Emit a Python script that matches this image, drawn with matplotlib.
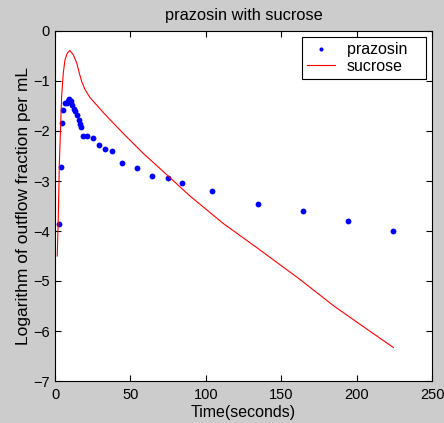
import matplotlib
matplotlib.use("Agg")
import matplotlib.pyplot as plt

plt.rcParams['font.family'] = ['Liberation Sans', 'DejaVu Sans']

# prazosin data (time in s, log outflow fraction per mL)
praz_t = [2.9, 3.8, 4.6, 5.5, 6.4, 7.7, 8.6, 9.5, 10.4, 11.3, 12.6, 13.5, 14.4,
          15.7, 16.6, 17.5, 18.8, 21.4, 25.0, 29.4, 33.4, 37.8, 44.2, 54.6,
          64.5, 74.7, 84.0, 104.1, 134.4, 164.6, 194.1, 224.4]
praz_y = [-3.87, -2.73, -1.85, -1.59, -1.45, -1.44, -1.40, -1.36, -1.40, -1.48,
          -1.57, -1.61, -1.68, -1.78, -1.87, -1.92, -2.11, -2.11, -2.15, -2.28,
          -2.37, -2.41, -2.64, -2.75, -2.90, -2.94, -3.04, -3.21, -3.47, -3.60,
          -3.81, -4.00]

# sucrose curve
suc_t = [1.5, 2.2, 2.9, 3.8, 4.4, 5.5, 6.6, 8.2, 9.9, 12.2, 14.4, 16.1, 17.7,
         19.9, 23.2, 32.0, 45.3, 58.6, 71.8, 89.5, 111.6, 133.7, 162.5, 184.5,
         206.7, 224.4]
suc_y = [-4.5, -3.7, -2.63, -1.84, -1.31, -0.84, -0.58, -0.44, -0.39, -0.48,
         -0.64, -0.84, -1.01, -1.17, -1.33, -1.63, -2.05, -2.45, -2.81, -3.30,
         -3.85, -4.33, -4.97, -5.49, -5.96, -6.33]

title = "prazosin with sucrose"
xlabel = "Time(seconds)"
ylabel = "Logarithm of outflow fraction per mL"
xticks = [0, 50, 100, 150, 200, 250]
yticks = [0, -1, -2, -3, -4, -5, -6, -7]

fig = plt.figure(figsize=(4.44, 4.23), dpi=100, facecolor='#cccccc')
ax = fig.add_axes([55/444, 42/423, 377/444, 350/423])
ax.set_facecolor('white')

ax.plot(praz_t, praz_y, linestyle='none', marker='o', markersize=4.2,
        color='#0000ff', markeredgewidth=0, label='prazosin   ')
ax.plot(suc_t, suc_y, color='#ff0000', linewidth=0.8, label='sucrose')

ax.set_xlim(0, 250)
ax.set_ylim(-7, 0)
ax.set_xticks(xticks)
ax.set_yticks(yticks)
ax.tick_params(direction='in', top=True, right=True, length=4, width=0.8,
               labelsize=10.5, colors='black')
ax.tick_params(axis='x', pad=5)
ax.tick_params(axis='y', pad=4)
for s in ax.spines.values():
    s.set_linewidth(0.8)
ax.set_title(title, fontsize=11.8, pad=8)
ax.set_xlabel(xlabel, fontsize=11.5, labelpad=2)
ax.set_ylabel(ylabel, fontsize=12.5, labelpad=1)

leg = ax.legend(loc='upper right', fontsize=11.5, fancybox=False, framealpha=1,
                edgecolor='black', borderaxespad=0.4, handlelength=1.75,
                handletextpad=0.75, labelspacing=0.1, borderpad=0.3,
                markerscale=0.7)
leg.get_frame().set_linewidth(0.8)

fig.savefig('out.png', dpi=100, facecolor=fig.get_facecolor())
